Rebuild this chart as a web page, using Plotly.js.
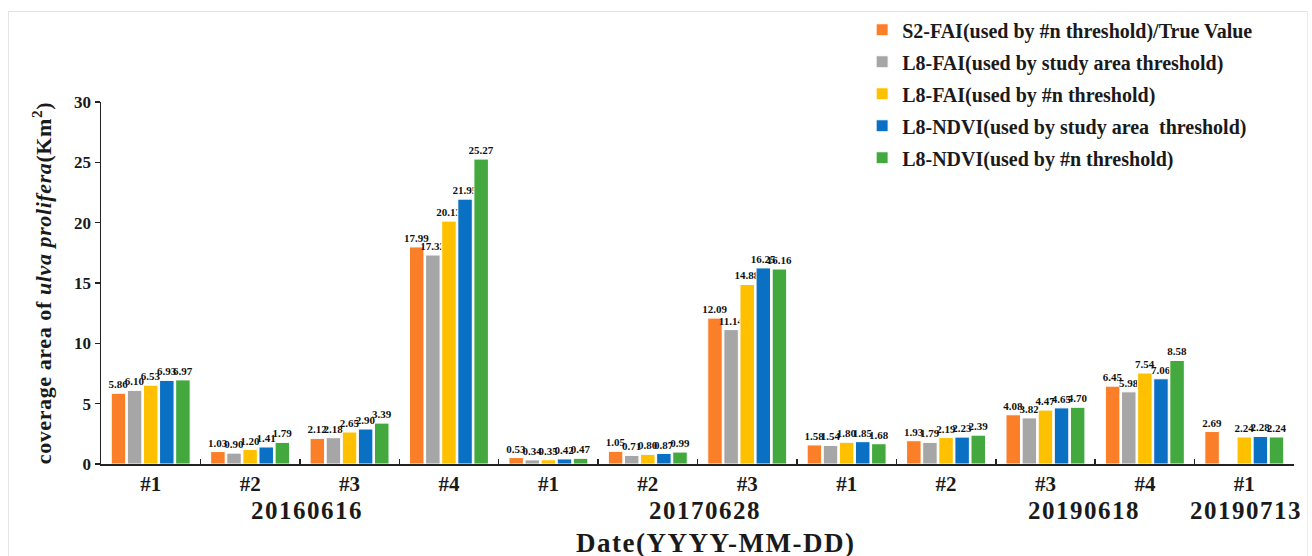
<!DOCTYPE html>
<html>
<head>
<meta charset="utf-8">
<script src="https://cdn.plot.ly/plotly-3.0.1.min.js"></script>
<style>
html,body{margin:0;padding:0;background:#fff;}
#frame{position:absolute;left:8px;top:11px;width:1300px;height:545px;border-top:1px solid #e4e4e4;border-left:1px solid #e4e4e4;border-right:1px solid #ececec;box-sizing:border-box;}
#chart{position:absolute;left:0;top:0;width:1312px;height:556px;}
#chart .annotation-text{letter-spacing:1.5px;}
#chart .ytitle{letter-spacing:0.6px;}
</style>
</head>
<body>
<div id="frame"></div>
<div id="chart"></div>
<script>
// Categories (date + site)
const categoryIds = ['20160616 #1','20160616 #2','20160616 #3','20160616 #4',
                     '20170628 #1','20170628 #2','20170628 #3',
                     '20190618 #1','20190618 #2','20190618 #3','20190618 #4',
                     '20190713 #1'];
const siteLabels = ['#1','#2','#3','#4','#1','#2','#3','#1','#2','#3','#4','#1'];
const dateLabels = ['20160616','20170628','20190618','20190713'];

// Series
const seriesNames = [
  'S2-FAI(used by #n threshold)/True Value',
  'L8-FAI(used by study area threshold)',
  'L8-FAI(used by #n threshold)',
  'L8-NDVI(used by study area  threshold)',
  'L8-NDVI(used by #n threshold)'
];
const s2FaiN     = [5.86, 1.03, 2.12, 17.99, 0.53, 1.05, 12.09, 1.58, 1.93, 4.08, 6.45, 2.69];
const l8FaiArea  = [6.10, 0.90, 2.18, 17.32, 0.34, 0.71, 11.14, 1.54, 1.79, 3.82, 5.98, null];
const l8FaiN     = [6.53, 1.20, 2.65, 20.13, 0.35, 0.80, 14.88, 1.80, 2.19, 4.47, 7.54, 2.24];
const l8NdviArea = [6.93, 1.41, 2.90, 21.95, 0.42, 0.87, 16.25, 1.85, 2.23, 4.65, 7.06, 2.28];
const l8NdviN    = [6.97, 1.79, 3.39, 25.27, 0.47, 0.99, 16.16, 1.68, 2.39, 4.70, 8.58, 2.24];
const yTicks = [0, 5, 10, 15, 20, 25, 30];

const seriesValues = [s2FaiN, l8FaiArea, l8FaiN, l8NdviArea, l8NdviN];
const seriesColors = ['#FB7F28', '#A6A6A6', '#FFC000', '#0A70C4', '#43A93E'];

const serif = 'Liberation Serif, Times New Roman, serif';

const traces = seriesValues.map((vals, i) => ({
  type: 'bar',
  name: seriesNames[i],
  legendgroup: 'g' + i,
  x: categoryIds,
  y: vals,
  marker: {color: seriesColors[i], line: {color: '#ffffff', width: 1}},
  text: vals.map(v => v === null ? '' : v.toFixed(2)),
  textposition: 'outside',
  constraintext: 'none',
  cliponaxis: false,
  textfont: {family: serif, size: 11, color: '#111', weight: 'bold'},
  hoverinfo: 'x+y+name'
}));

const datePos = [1.57, 5.58, 9.39, 11.02];
const annotations = dateLabels.map((d, i) => ({
  text: d, x: datePos[i], xref: 'x', y: -0.128, yref: 'paper',
  yanchor: 'middle', xanchor: 'center', showarrow: false,
  font: {family: serif, size: 25, color: '#1a1a1a', weight: 'bold'}
}));
annotations.push({
  text: 'Date(YYYY-MM-DD)', x: 0.515, xref: 'paper', y: -0.218, yref: 'paper',
  yanchor: 'middle', xanchor: 'center', showarrow: false,
  font: {family: serif, size: 27, color: '#1a1a1a', weight: 'bold'}
});

const layout = {
  width: 1312, height: 556,
  margin: {l: 101, r: 18, t: 101, b: 92},
  paper_bgcolor: 'rgba(0,0,0,0)',
  plot_bgcolor: 'rgba(0,0,0,0)',
  barmode: 'group',
  bargap: 0.19,
  bargroupgap: 0.1,
  showlegend: true,
  legend: {
    x: 0.638, y: 1.25, xanchor: 'left', yanchor: 'top',
    font: {family: serif, size: 20, color: '#1a1a1a', weight: 'bold'},
    tracegroupgap: 3,
    bgcolor: 'rgba(0,0,0,0)',
    itemwidth: 30
  },
  xaxis: {
    type: 'category',
    tickmode: 'array',
    tickvals: categoryIds,
    ticktext: siteLabels,
    tickson: 'boundaries',
    ticks: 'inside', ticklen: 5, tickwidth: 1.5, tickcolor: '#222',
    showline: true, linecolor: '#222', linewidth: 1.5,
    showgrid: false, zeroline: false,
    tickfont: {family: serif, size: 21, color: '#1a1a1a', weight: 'bold'},
    range: [-0.5, 11.5]
  },
  yaxis: {
    range: [0, 30],
    tickvals: yTicks,
    ticks: 'outside', ticklen: 5, tickwidth: 1.5, tickcolor: '#222',
    showline: true, linecolor: '#222', linewidth: 1.5,
    showgrid: false, zeroline: false,
    tickfont: {family: serif, size: 17, color: '#1a1a1a', weight: 'bold'},
    title: {
      text: 'coverage area of <i>ulva prolifera</i>(Km<sup>2</sup>)',
      font: {family: serif, size: 22, color: '#1a1a1a', weight: 'bold'},
      standoff: 16
    }
  },
  annotations: annotations
};

Plotly.newPlot('chart', traces, layout, {displayModeBar: false, staticPlot: true});
</script>
</body>
</html>
